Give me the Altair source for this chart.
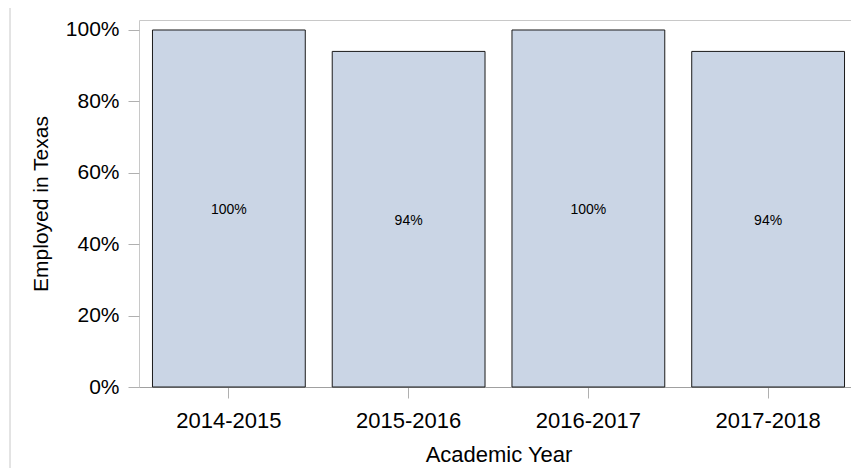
import altair as alt
import pandas as pd

years = ["2014-2015", "2015-2016", "2016-2017", "2017-2018"]
employed = [1.00, 0.94, 1.00, 0.94]
labels = ["100%", "94%", "100%", "94%"]

df = pd.DataFrame({"year": years, "value": employed, "label": labels})
df["mid"] = df["value"] / 2

FONT = "Liberation Sans"

x = alt.X(
    "year:N",
    sort=years,
    scale=alt.Scale(paddingInner=0.15, paddingOuter=0.075, range=[0, 719]),
    axis=alt.Axis(
        title="Academic Year",
        labelAngle=0,
        labelFontSize=22,
        titleFontSize=22,
        labelFont=FONT,
        titleFont=FONT,
        labelColor="#000000",
        titleColor="#000000",
        titleFontWeight="normal",
        tickSize=11,
        tickColor="#b0b0b0",
        domainColor="#a0a0a0",
        labelPadding=12,
        titlePadding=13,
    ),
)

y_axis = alt.Axis(
    title="Employed in Texas",
    format=".0%",
    values=[0, 0.2, 0.4, 0.6, 0.8, 1.0],
    labelFontSize=21,
    titleFontSize=21,
    labelFont=FONT,
    titleFont=FONT,
    labelColor="#000000",
    titleColor="#000000",
    titleFontWeight="normal",
    tickSize=11,
    tickColor="#b0b0b0",
    domain=False,
    grid=False,
    labelPadding=9,
    titlePadding=14,
)

bars = alt.Chart(df).mark_bar(
    color="#cad5e5", stroke="#1a1a1a", strokeWidth=1
).encode(
    x=x,
    y=alt.Y("value:Q", scale=alt.Scale(domain=[0, 1.028], nice=False, zero=True), axis=y_axis),
)

text = alt.Chart(df).mark_text(
    font=FONT, fontSize=14, color="#000000", baseline="middle", align="center", dy=2
).encode(
    x=alt.X("year:N", sort=years),
    y=alt.Y("mid:Q"),
    text="label:N",
)

frame = alt.Chart(df).mark_rule(color="#e2e2e2", strokeWidth=1).encode(
    x=alt.value(-129), y=alt.value(-12), y2=alt.value(460)
)

chart = alt.layer(bars, text, frame).properties(
    width=712,
    height=367,
    autosize=alt.AutoSizeParams(type="none"),
    padding={"left": 131, "top": 12, "right": 0, "bottom": 81},
    background="#ffffff",
).configure_view(stroke="#c8c8c8", strokeWidth=1)

chart.save("out.html", embed_options={"renderer": "svg", "actions": False})
